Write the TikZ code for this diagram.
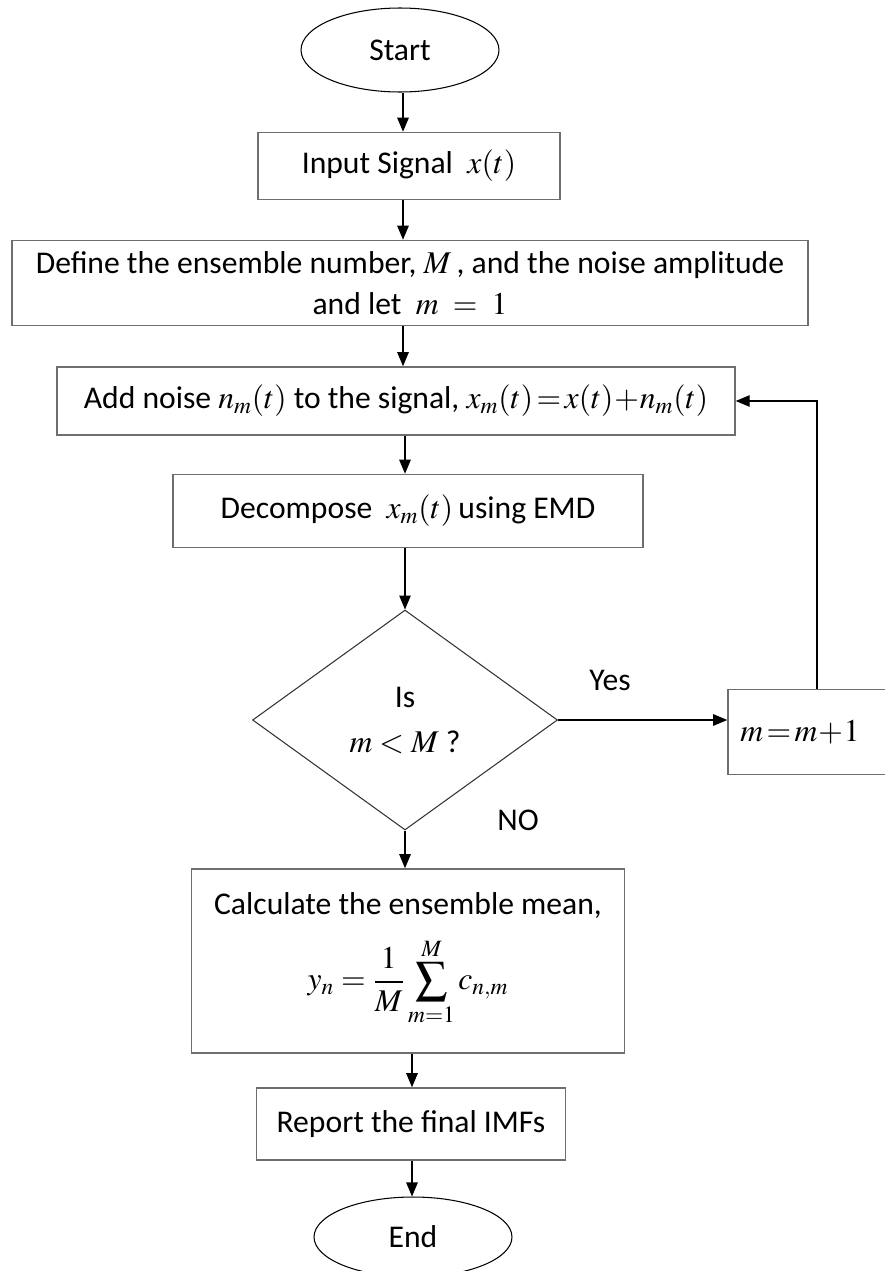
\documentclass[tikz,border=0pt]{standalone}
\usepackage{amsmath}
\usepackage{mathptmx}
\usepackage{fontspec}
\setmainfont{Carlito}
\definecolor{BoxGray}{RGB}{110, 110, 110}
\usetikzlibrary{shapes.geometric, arrows.meta, positioning}

\begin{document}
\begin{tikzpicture}[
            x=0.02cm, y=-0.02cm,
            font=\fontsize{18}{21.6}\selectfont,
            term/.style={draw=black, line width=0.6pt, ellipse, inner sep=0pt},
            proc/.style={draw=BoxGray, line width=0.9pt, rectangle, align=center, inner sep=2pt},
            dec/.style={draw=black!80, line width=0.6pt, diamond, align=center, inner sep=0pt},
            arr/.style={draw=black, line width=0.6pt, -{Triangle[length=2.8mm, width=2.3mm]}},
            lbl/.style={font=\fontsize{18}{21.6}\selectfont}
        ]
        \useasboundingbox (0,0) rectangle (885,1271);

        % Main column
        \node[term, minimum width=3.96cm, minimum height=1.68cm] (start) at (400,50) {Start};
        \node[proc, minimum width=6.04cm, minimum height=1.34cm] (input) at (409,166) {Input Signal \ $x(t)$};
        \node[proc, minimum width=15.92cm, minimum height=1.7cm] (define) at (410,283) {Define the ensemble number, $M$\,, and the noise amplitude\\[2pt] and let \ $m \ = \ 1$};
        \node[proc, minimum width=13.56cm, minimum height=1.36cm] (add) at (396,401) {Add noise $n_m(t)$ to the signal, $x_m(t)\!=\!x(t)\!+\!n_m(t)$};
        \node[proc, minimum width=9.4cm, minimum height=1.46cm] (decomp) at (408,511) {Decompose \ $x_m(t)$\,using EMD};
        \node[dec, minimum width=6.1cm, minimum height=4.4cm] (check) at (405,720) {Is\\[4pt] $m < M$ ?};
        \node[proc, minimum width=8.66cm, minimum height=3.68cm] (mean) at (408,961) {Calculate the ensemble mean,\\[10pt] $\displaystyle y_n = \frac{1}{M}\sum_{m=1}^{M} c_{n,m}$\\[1pt]};
        \node[proc, minimum width=6.18cm, minimum height=1.44cm] (report) at (411,1124) {Report the final IMFs};
        \node[term, minimum width=3.96cm, minimum height=1.6cm] (finish) at (413,1237) {End};

        % Side loop
        \node[proc, minimum width=3.56cm, minimum height=1.7cm] (incr) at (817,732) {$m\!=\!m\!+\!1$\hspace{0.68cm}};

        % Arrows
        \draw[arr] (403,0 |- start.south) -- (403,0 |- input.north);
        \draw[arr] (403,0 |- input.south) -- (403,0 |- define.north);
        \draw[arr] (403,0 |- define.south) -- (403,0 |- add.north);
        \draw[arr] (405,0 |- add.south) -- (405,0 |- decomp.north);
        \draw[arr] (decomp.south -| check.north) -- (check.north);
        \draw[arr] (check.south) -- (check.south |- mean.north);
        \draw[arr] (412,0 |- mean.south) -- (412,0 |- report.north);
        \draw[arr] (412,0 |- report.south) -- (412,0 |- finish.north);
        \draw[arr] (check.east) -- (check.east -| incr.west);
        \draw[arr] (incr.north) |- (add.east);

        % Labels
        \node[lbl] (yes) at (610,680) {Yes};
        \node[lbl] (no) at (518,820) {NO};

        \end{tikzpicture}
\end{document}
